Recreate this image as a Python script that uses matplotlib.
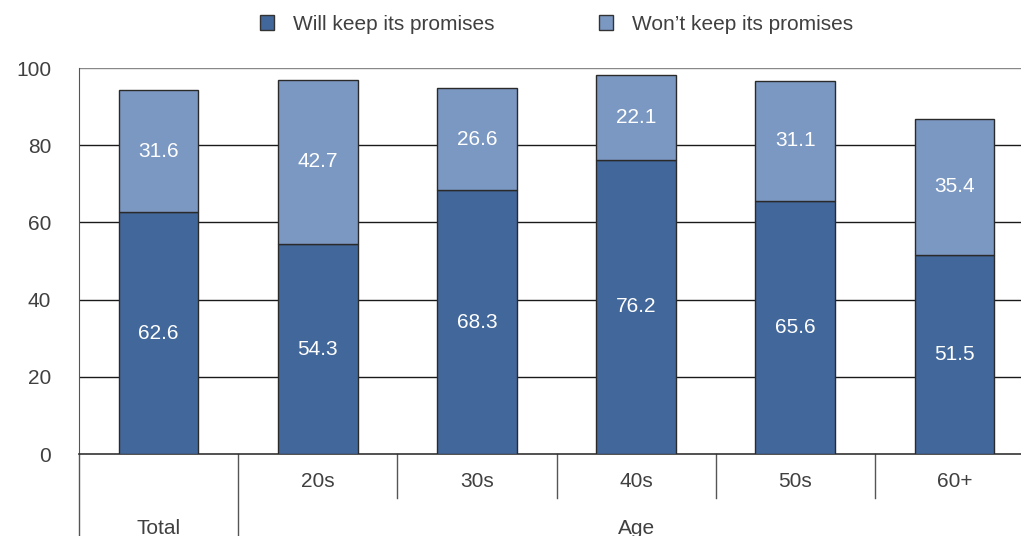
import matplotlib.pyplot as plt
from matplotlib.patches import Patch

plt.rcParams['font.family'] = ['Liberation Sans', 'DejaVu Sans']

categories = ['', '20s', '30s', '40s', '50s', '60+']
will_keep = [62.6, 54.3, 68.3, 76.2, 65.6, 51.5]
wont_keep = [31.6, 42.7, 26.6, 22.1, 31.1, 35.4]
group_labels = ['Total', 'Age']
group_spans = [(0, 1), (1, 6)]

dark = '#42679a'
light = '#7b98c3'
text_col = '#404040'

fig = plt.figure(figsize=(10.21, 5.36), dpi=100)
ax = fig.add_axes([79 / 1021, 82 / 536, 955 / 1021, 386 / 536])

x = [i + 0.5 for i in range(len(categories))]
ax.bar(x, will_keep, width=0.5, color=dark, edgecolor='#2a2a2a', linewidth=1, zorder=3)
ax.bar(x, wont_keep, width=0.5, bottom=will_keep, color=light, edgecolor='#2a2a2a', linewidth=1, zorder=3)

for xi, a, b in zip(x, will_keep, wont_keep):
    ax.text(xi, a / 2, f'{a:.1f}', ha='center', va='center', color='white', fontsize=15, zorder=4)
    ax.text(xi, a + b / 2, f'{b:.1f}', ha='center', va='center', color='white', fontsize=15, zorder=4)

ax.set_xlim(0, 6)
ax.set_ylim(0, 100)
ax.set_yticks([0, 20, 40, 60, 80, 100])
ax.tick_params(axis='y', length=0, labelsize=15, labelcolor=text_col, pad=20)
ax.set_xticks([])
for yv in [20, 40, 60, 80]:
    ax.axhline(yv, color='#1a1a1a', linewidth=1, zorder=1)
ax.axhline(100, color='#888888', linewidth=1, zorder=1)
ax.spines['right'].set_visible(False)
ax.spines['top'].set_visible(False)
ax.spines['left'].set_color('#555555')
ax.spines['bottom'].set_color('#333333')
ax.spines['bottom'].set_linewidth(1.2)

# category labels and separators below the axis
trans = ax.get_xaxis_transform()
for xi, lab in zip(x, categories):
    if lab:
        ax.text(xi, -0.072, lab, transform=trans, ha='center', va='center', fontsize=15, color=text_col)
for i in range(2, len(categories)):
    ax.plot([i, i], [0, -0.115], transform=trans, color='#555555', linewidth=1, clip_on=False)
ax.plot([1, 1], [0, -0.22], transform=trans, color='#555555', linewidth=1, clip_on=False)
ax.plot([0, 0], [0, -0.22], transform=trans, color='#555555', linewidth=1, clip_on=False)
for lab, (s, e) in zip(group_labels, group_spans):
    ax.text((s + e) / 2, -0.192, lab, transform=trans, ha='center', va='center', fontsize=15, color=text_col)

handles = [Patch(facecolor=dark, edgecolor='#333333', label='Will keep its promises'),
           Patch(facecolor=light, edgecolor='#333333', label='Won\u2019t keep its promises')]
fig.legend(handles=handles, loc='center', bbox_to_anchor=(0.545, 1 - 24 / 536), ncol=2,
           frameon=False, fontsize=15, handlelength=0.7, handleheight=0.7,
           columnspacing=5.0, handletextpad=0.9, labelcolor=text_col)

fig.savefig('out.png', dpi=100)
